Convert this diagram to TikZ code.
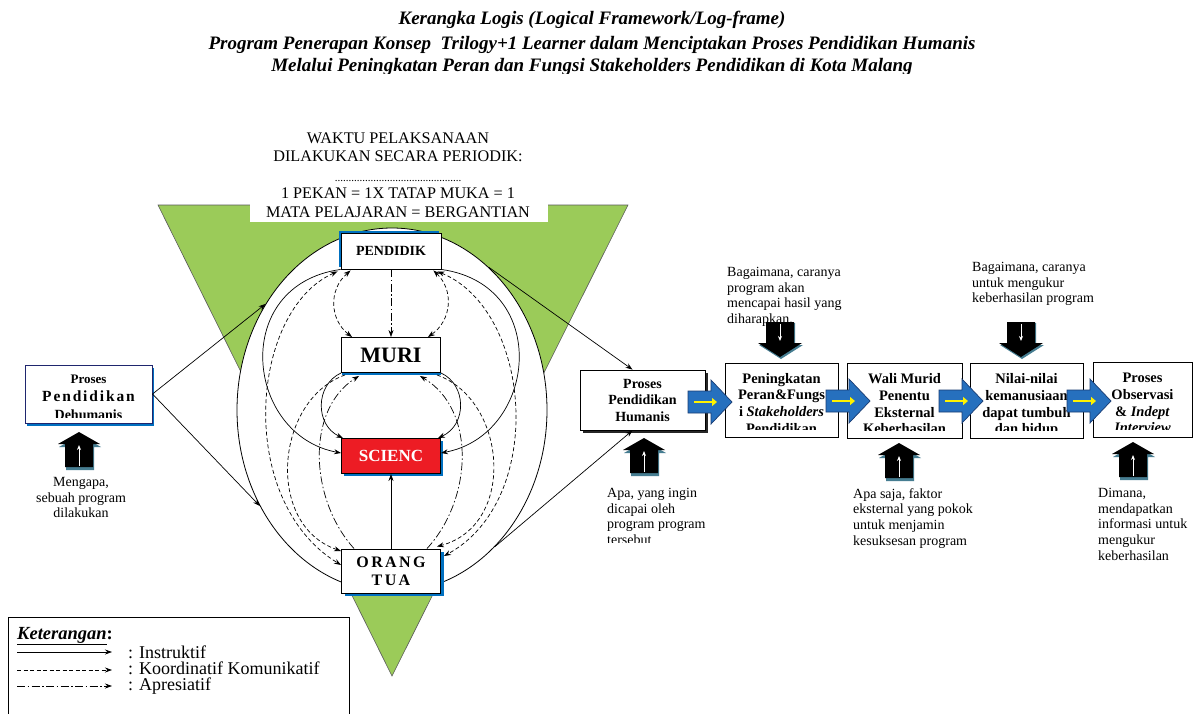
\documentclass[tikz,border=0pt]{standalone}
\usepackage{fontspec}
\setmainfont{Liberation Serif}
\usetikzlibrary{shapes.geometric,arrows.meta,calc,shadows}
\definecolor{tgreen}{RGB}{155,203,89}
\definecolor{sblue}{RGB}{0,112,192}
\definecolor{navy}{RGB}{31,38,110}
\definecolor{ared}{RGB}{237,28,36}
\definecolor{barrow}{RGB}{38,112,190}
\definecolor{barrowd}{RGB}{25,60,115}
\definecolor{tealsh}{RGB}{70,125,145}
\definecolor{yarrow}{RGB}{255,242,0}
\newcommand{\fsz}[2]{\fontsize{#1pt}{#2pt}\selectfont}
\newcommand{\blkup}[2]{%
\begin{scope}[shift={(#1,#2)}]
 \fill[tealsh] (1,3) -- (22,15) -- (15,15) -- (15,38) -- (-13,38) -- (-13,15) -- (-20,15) -- cycle;
 \fill[black] (0,0) -- (21,12) -- (14,12) -- (14,35) -- (-14,35) -- (-14,12) -- (-21,12) -- cycle;
 \draw[white, line width=1pt, -{Stealth[length=5pt,width=4pt]}] (0,34) -- (0,13);
\end{scope}}
\newcommand{\blkdown}[2]{%
\begin{scope}[shift={(#1,#2)}]
 \fill[tealsh] (-13,1) -- (15,1) -- (15,23) -- (23,23) -- (1,37) -- (-21,23) -- (-13,23) -- cycle;
 \fill[black] (-14,0) -- (14,0) -- (14,21) -- (22,21) -- (0,35) -- (-22,21) -- (-14,21) -- cycle;
 \draw[white, line width=1pt, -{Stealth[length=5pt,width=4pt]}] (0,2) -- (0,19);
\end{scope}}
\newcommand{\bluechev}[2]{%
\begin{scope}[shift={(#1,#2)}]
 \filldraw[fill=barrow, draw=barrowd, line width=0.7pt] (-22,-11) -- (1,-11) -- (1,-22) -- (22,0) -- (1,22) -- (1,11) -- (-22,11) -- cycle;
 \draw[yarrow, line width=2.5pt, -{Triangle[length=5pt,width=8pt]}] (-16,0) -- (7,0);
\end{scope}}
\tikzset{
 >={Stealth[length=7pt,width=5pt]},
 actor/.style={draw=black, line width=0.9pt, fill=white, minimum width=99pt, minimum height=35pt, inner sep=0pt, align=center, font=\bfseries},
 instr/.style={line width=0.7pt},
 koord/.style={line width=0.7pt, dash pattern=on 4pt off 2.5pt},
 apres/.style={line width=0.7pt, dash pattern=on 8pt off 2.5pt on 1.5pt off 2.5pt},
 rbox/.style={draw=black, line width=0.8pt, fill=white, inner sep=0pt},
 boxtxt/.style={inner sep=0pt, align=center, font=\bfseries\fsz{14.5}{16.7}, anchor=north},
 note/.style={inner sep=0pt, align=left, font=\fsz{14}{15.6}, anchor=north west},
 waktu/.style={anchor=base, inner sep=0pt, font=\fsz{16.2}{18}},
 ttl/.style={anchor=base, inner sep=0pt, font=\bfseries\itshape\fsz{19}{22}},
 legtxt/.style={anchor=base west, inner sep=0pt, font=\fsz{18}{19}}
}
\begin{document}
\begin{tikzpicture}[x=1pt,y=-1pt]
\useasboundingbox (0,0) rectangle (1194,713);
\fill[white] (0,0) rectangle (1194,713);

% green triangle and heading over it
\filldraw[fill=tgreen, draw=black!65, line width=0.6pt] (158,205) -- (628,205) -- (392,676) -- cycle;
\fill[white] (250,196) rectangle (548,222);
\node[waktu] (w1) at (398,143) {WAKTU PELAKSANAAN};
\node[waktu] (w2) at (398,161) {DILAKUKAN SECARA PERIODIK:};
\node[waktu, font=\fsz{11}{11}] (w3) at (398,181) {..............................................};
\node[waktu] (w4) at (398,198) {1 PEKAN = 1X TATAP MUKA = 1};
\node[waktu] (w5) at (398,217) {MATA PELAJARAN = BERGANTIAN};

% big ring
\node[ellipse, draw=black, line width=0.8pt, fill=white, minimum width=310pt, minimum height=364pt, inner sep=0pt] (ring) at (392,410) {};

% central actors
\node[actor, minimum width=100pt, minimum height=36pt, font=\bfseries\fsz{14}{16}, drop shadow={shadow xshift=-2pt, shadow yshift=2pt, fill=sblue, opacity=1}] (pend) at (391,251) {PENDIDIK};
\node[actor, font=\bfseries\fsz{22}{24}, drop shadow={shadow xshift=0pt, shadow yshift=-2.5pt, fill=sblue, opacity=1}] (muri) at (391,355) {MURI};
\node[actor, fill=ared, text=white, font=\bfseries\fsz{17}{19}, drop shadow={shadow xshift=2pt, shadow yshift=-2pt, fill=sblue, opacity=1}] (sci) at (391,456) {SCIENC};
\node[actor, minimum height=44pt, font=\bfseries\fsz{16}{18}\addfontfeature{LetterSpace=15}, drop shadow={shadow xshift=3pt, shadow yshift=-3pt, fill=sblue, opacity=1}] (orang) at (391,571) {ORANG\\TUA};

% instruktif (solid)
\draw[instr,->] (pend.south west) .. controls (230,285) and (245,435) .. ($(sci.west)+(0,-3)$);
\draw[instr,->] (pend.south east) .. controls (552,285) and (537,435) .. ($(sci.east)+(0,-3)$);
\draw[instr,->] (muri.south west) .. controls (315,385) and (315,425) .. ($(sci.north west)+(2,0)$);
\draw[instr,->] (muri.south east) .. controls (467,385) and (467,425) .. ($(sci.north east)+(-3,0)$);
\draw[instr,->] (orang.north) -- (sci.south);
% koordinatif komunikatif (dashed)
\draw[koord,<->] ($(pend.south west)+(-3,2)$) .. controls (250,310) and (235,500) .. ($(orang.west)+(0,-6)$);
\draw[koord,<->] ($(pend.south east)+(-4,2)$) .. controls (532,310) and (547,500) .. ($(orang.east)+(3,-15)$);
\draw[koord,->] ($(muri.south west)+(4,2)$) .. controls (275,400) and (265,525) .. ($(orang.west)+(0,-20)$);
\draw[koord,->] ($(muri.south east)+(-4,2)$) .. controls (507,400) and (517,525) .. ($(orang.north east)+(-4,-2)$);
\draw[koord,<->] ($(pend.south west)+(10,1)$) .. controls (328,290) and (330,320) .. ($(muri.north west)+(11,0)$);
\draw[koord,<->] ($(pend.south east)+(-8,1)$) .. controls (454,290) and (452,320) .. ($(muri.north east)+(-13,0)$);
% apresiatif (dash-dot)
\draw[apres,->] (pend.south) -- (muri.north);
\draw[apres,->] ($(orang.north west)+(13,0)$) .. controls (310,500) and (305,410) .. ($(muri.south west)+(18,3)$);
\draw[apres,->] ($(orang.north east)+(-14,0)$) .. controls (472,500) and (477,410) .. ($(muri.south east)+(-21,3)$);

% left: dehumanis
\node[draw=navy, line width=1pt, fill=white, minimum width=127pt, minimum height=58pt, inner sep=0pt, drop shadow={shadow xshift=1.5pt, shadow yshift=-2.5pt, fill=sblue, opacity=1}] (dehum) at (88.5,394) {};
\begin{scope}
\clip ($(dehum.north west)+(1,1)$) rectangle ($(dehum.south east)+(-1,-6)$);
\node[inner sep=0pt, align=center, font=\bfseries\fsz{14}{18}, anchor=north] (dehumt) at (88.5,374.4) {{\fsz{13}{18}Proses}\\{\fsz{15.5}{18}\addfontfeature{LetterSpace=12}Pendidikan}\\Dehumanis};
\end{scope}
\draw[instr,->] (dehum.east) -- (ring.140);
\draw[instr,->] (dehum.east) -- (ring.216);
\blkup{79}{432}
\node[note, anchor=north, align=center] (n6) at (81,477.3) {Mengapa,\\sebuah program\\dilakukan};

% humanis
\node[draw=black, line width=0.8pt, fill=white, minimum width=125pt, minimum height=60pt, inner sep=0pt, align=center, font=\bfseries\fsz{14}{16.5}, drop shadow={shadow xshift=3pt, shadow yshift=-3pt, fill=black!85, opacity=1}] (hum) at (642.5,400) {Proses\\Pendidikan\\Humanis};
\draw[instr,->] (ring.56) -- ($(hum.north)+(-10,0)$);
\draw[instr,->] (ring.307) -- ($(hum.south)+(-10,0)$);

% chain of boxes
\node[rbox, minimum width=113pt, minimum height=74pt] (b2) at (781.5,400) {};
\begin{scope}
\clip ($(b2.north west)+(1,1)$) rectangle ($(b2.south east)+(-1,-7.5)$);
\node[boxtxt] (b2t) at (781.5,373) {Peningkatan\\Peran\&Fungs\\i \textit{Stakeholders}\\Pendidikan};
\end{scope}
\node[rbox, minimum width=115pt, minimum height=75pt] (b3) at (904.5,400.5) {};
\begin{scope}
\clip ($(b3.north west)+(1,1)$) rectangle ($(b3.south east)+(-1,-7.5)$);
\node[boxtxt] (b3t) at (904.5,373.5) {Wali Murid\\Penentu\\Eksternal\\Keberhasilan};
\end{scope}
\node[rbox, minimum width=113pt, minimum height=75pt] (b4) at (1026.5,400.5) {};
\begin{scope}
\clip ($(b4.north west)+(1,1)$) rectangle ($(b4.south east)+(-1,-7.5)$);
\node[boxtxt] (b4t) at (1026.5,373.5) {Nilai-nilai\\kemanusiaan\\dapat tumbuh\\dan hidup};
\end{scope}
\node[rbox, minimum width=99pt, minimum height=75pt] (b5) at (1142.5,399.5) {};
\begin{scope}
\clip ($(b5.north west)+(1,1)$) rectangle ($(b5.south east)+(-1,-7.5)$);
\node[boxtxt] (b5t) at (1142.5,373) {Proses\\Observasi\\\& \textit{Indept}\\\textit{Interview}};
\end{scope}
\bluechev{710}{402}
\bluechev{848}{401}
\bluechev{961}{401}
\bluechev{1089}{401}

% annotations
\node[note] (n1) at (727,267.3) {Bagaimana, caranya\\program akan\\mencapai hasil yang\\diharapkan.};
\node[note] (n2) at (972,262.3) {Bagaimana, caranya\\untuk mengukur\\keberhasilan program};
\begin{scope}
\clip (600,480) rectangle (760,542);
\node[note] (n3) at (607,488.3) {Apa, yang ingin\\dicapai oleh\\program program\\tersebut};
\end{scope}
\node[note] (n4) at (853,488.3) {Apa saja, faktor\\eksternal yang pokok\\untuk menjamin\\kesuksesan program};
\node[note] (n5) at (1098,488.3) {Dimana,\\mendapatkan\\informasi untuk\\mengukur\\keberhasilan};
\blkdown{780}{322}
\blkdown{1021}{322}
\blkup{644}{438}
\blkup{899}{443}
\blkup{1133}{442}

% legend
\node[draw=black, line width=0.8pt, minimum width=341pt, minimum height=120pt, anchor=north west, inner sep=0pt] (leg) at (8,617) {};
\node[legtxt, font=\fsz{18.5}{19}] (legt) at (17,639) {\underline{\textbf{\textit{Keterangan}}}\textbf{:}};
\coordinate (la1) at (17,652); \coordinate (lb1) at (112,652);
\coordinate (la2) at (17,670); \coordinate (lb2) at (112,670);
\coordinate (la3) at (17,686); \coordinate (lb3) at (112,686);
\draw[instr,->] (la1) -- (lb1);
\draw[koord,->] (la2) -- (lb2);
\draw[apres,->] (la3) -- (lb3);
\node[legtxt] (li1) at (128,658) {: Instruktif};
\node[legtxt] (li2) at (128,674) {: Koordinatif Komunikatif};
\node[legtxt] (li3) at (128,690) {: Apresiatif};

% title
\begin{scope}
\clip (0,0) rectangle (1194,73);
\node[ttl] (t1) at (592,24) {Kerangka Logis (Logical Framework/Log-frame)};
\node[ttl] (t2) at (592,49) {Program Penerapan Konsep\ \ Trilogy+1 Learner dalam Menciptakan Proses Pendidikan Humanis};
\node[ttl] (t3) at (592,71) {Melalui Peningkatan Peran dan Fungsi Stakeholders Pendidikan di Kota Malang};
\end{scope}
\end{tikzpicture}
\end{document}
